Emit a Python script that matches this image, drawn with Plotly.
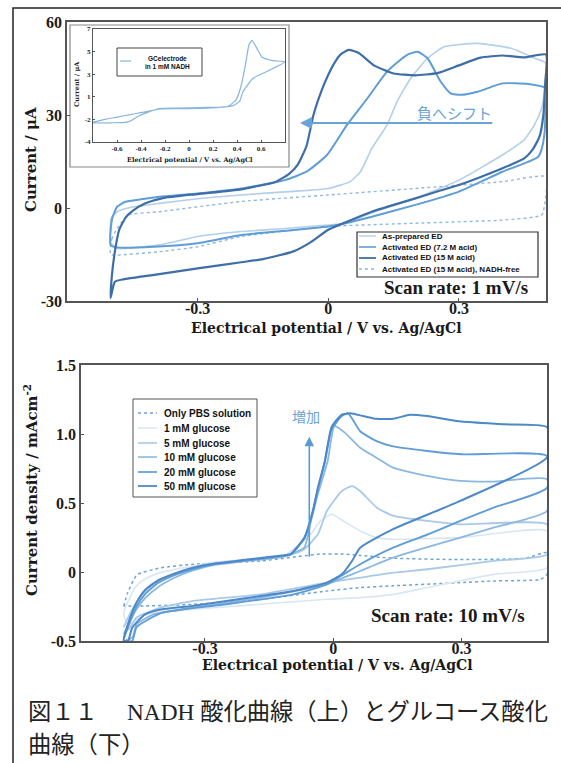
import plotly.graph_objects as go

W, H = 561, 763


def px(x):
    return x / W


def py(y):
    return 1 - y / H


# ---------------- top panel: NADH oxidation (Current / uA) ----------------
ap_v = [-0.5, -0.498, -0.485, -0.45, -0.388, -0.3, -0.2, -0.1, 0.0, 0.05, 0.074, 0.1, 0.135, 0.158,
        0.189, 0.228, 0.266, 0.343, 0.42, 0.474, 0.5,
        0.499, 0.497, 0.49, 0.474, 0.45, 0.4, 0.3, 0.2, 0.1, 0.04, 0.0, -0.1, -0.2, -0.3, -0.388,
        -0.485, -0.5]
ap_i = [-11, -3, -1.2, 0.3, 1.5, 3.0, 4.2, 5.2, 6.3, 8.5, 11.7, 19.2, 26.8, 34.3,
        41.8, 48.3, 52.0, 53.1, 51.5, 48.3, 46.7,
        42, 38, 32.2, 27, 22, 17.1, 9.0, 3.1, -1.5, -4.9, -5.5, -6.6, -7.6, -9.2, -11.9,
        -13.0, -11]

a72_v = [-0.5, -0.499, -0.496, -0.485, -0.466, -0.43, -0.388, -0.3, -0.2, -0.1, -0.05, -0.003, 0.043,
         0.09, 0.135, 0.181, 0.205, 0.228, 0.258, 0.281, 0.305, 0.343, 0.4, 0.459, 0.5,
         0.499, 0.497, 0.49, 0.482, 0.459, 0.4, 0.3, 0.2, 0.1, 0.04, 0.0, -0.08, -0.2, -0.3, -0.4,
         -0.485, -0.5]
a72_i = [-12, -6, -3.3, 0.4, 2.0, 2.8, 3.6, 4.7, 6.3, 9.0, 11.7, 17.1, 26.8,
         35.4, 44.0, 49.4, 50.4, 48.3, 40.8, 37.0, 36.5, 37.5, 40.2, 40.0, 38.6,
         32, 24.6, 19, 16.5, 14.9, 11.7, 5.3, 1.0, -2.8, -4.9, -6.0, -7.1, -8.7, -11.4, -12.5,
         -12.7, -12]

a15_v = [-0.5, -0.497, -0.49, -0.48, -0.465, -0.45, -0.42, -0.38, -0.3, -0.2, -0.12, -0.09, -0.07,
         -0.05, -0.034, -0.015, 0.0, 0.015, 0.028, 0.047, 0.07, 0.105, 0.15, 0.2, 0.25, 0.3, 0.35,
         0.4, 0.45, 0.5,
         0.498, 0.494, 0.485, 0.47, 0.45, 0.4, 0.35, 0.3, 0.25, 0.2, 0.15, 0.1, 0.05, 0.0, -0.04,
         -0.08, -0.15, -0.2, -0.3, -0.4, -0.47, -0.49, -0.5]
a15_i = [-29, -22, -14, -7, -3, -1, 1.5, 3.2, 4.5, 6.0, 8.5, 11.0, 14.0,
         20.0, 30.0, 38.0, 43.0, 47.0, 49.5, 51.0, 50.0, 46.0, 43.4, 42.8, 43.5, 46.0, 48.5,
         49.2, 48.6, 49.5,
         40, 30, 23, 19, 16, 12.8, 10.0, 7.4, 5.3, 3.1, 1.0, -1.2, -4.0, -7.0, -11.0,
         -14.0, -16.5, -17.5, -19.5, -21.6, -23.0, -23.8, -29]

nf_v = [-0.5, -0.497, -0.485, -0.46, -0.388, -0.2, 0.0, 0.2, 0.4, 0.5,
        0.497, 0.49, 0.4, 0.2, 0.0, -0.2, -0.3, -0.388, -0.485, -0.5]
nf_i = [-15, -10, -6.6, -2.3, -1.2, 2.1, 4.2, 6.3, 8.5, 10.1,
        1.0, -2.3, -3.9, -4.9, -6.0, -9.2, -12.5, -14.1, -15.2, -15]

top_names = ["As-prepared ED", "Activated ED (7.2 M acid)", "Activated ED (15 M acid)",
             "Activated ED (15 M acid), NADH-free"]

# inset: GC electrode in 1 mM NADH
gc_v = [-0.8, -0.7, -0.6, -0.5, -0.4, -0.3, -0.25, -0.1, 0.1, 0.3, 0.33, 0.39, 0.43, 0.47, 0.5,
        0.525, 0.56, 0.61, 0.7, 0.8,
        0.64, 0.53, 0.45, 0.42, 0.36, 0.15, -0.1, -0.26, -0.35, -0.43, -0.48, -0.53, -0.65, -0.8]
gc_i = [-1.25, -1.0, -0.8, -0.6, -0.4, -0.2, -0.05, 0.0, 0.05, 0.1, 0.19, 0.7, 1.8, 3.8, 5.6,
        6.0, 5.4, 4.5, 4.2, 4.1,
        3.2, 2.6, 1.45, 0.57, 0.2, 0.0, -0.05, -0.1, -0.4, -0.76, -1.1, -1.26, -1.3, -1.32]
inset_ytick_vals = [7, 5, 3, 1, -1, -3]
inset_ytick_text = ["7", "5", "3", "1", "-2", "-4"]
inset_xtick_vals = [-0.6, -0.4, -0.2, 0, 0.2, 0.4, 0.6]
inset_xtick_text = ["-0.6", "-0.4", "-0.2", "0", "0.2", "0.4", "0.6"]

# ---------------- bottom panel: glucose oxidation (mA cm^-2) ----------------
pbs_v = [-0.49, -0.482, -0.459, -0.404, -0.326, -0.17, -0.03, 0.024, 0.063, 0.141, 0.297, 0.45, 0.5,
         0.5, 0.485, 0.375, 0.297, 0.141, 0.063, -0.015, -0.17, -0.326, -0.44, -0.49]
pbs_j = [-0.25, -0.16, -0.02, 0.03, 0.056, 0.08, 0.13, 0.13, 0.12, 0.1, 0.09, 0.1, 0.14,
         -0.017, -0.053, -0.065, -0.077, -0.1, -0.113, -0.138, -0.198, -0.234, -0.246, -0.246]

g1_v = [-0.49, -0.475, -0.46, -0.44, -0.41, -0.37, -0.33, -0.28, -0.2, -0.12, -0.054, -0.03, -0.004,
        0.024, 0.063, 0.102, 0.141, 0.297, 0.5,
        0.5, 0.375, 0.22, 0.141, 0.063, -0.015, -0.17, -0.326, -0.44, -0.48, -0.49]
g1_j = [-0.3, -0.18, -0.1, -0.05, -0.01, 0.02, 0.04, 0.07, 0.09, 0.11, 0.27, 0.37, 0.418,
        0.37, 0.297, 0.249, 0.237, 0.249, 0.297,
        0.031, -0.017, -0.113, -0.162, -0.186, -0.198, -0.234, -0.27, -0.31, -0.38, -0.3]

g5_v = [-0.49, -0.475, -0.46, -0.44, -0.41, -0.37, -0.33, -0.28, -0.2, -0.12, -0.07, -0.036, -0.015,
        0.02, 0.044, 0.063, 0.102, 0.141, 0.22, 0.297, 0.5,
        0.5, 0.375, 0.22, 0.141, 0.063, -0.015, -0.17, -0.326, -0.404, -0.46, -0.475, -0.49]
g5_j = [-0.4, -0.3, -0.22, -0.14, -0.07, -0.01, 0.03, 0.06, 0.09, 0.11, 0.16, 0.273, 0.442,
        0.587, 0.623, 0.587, 0.466, 0.406, 0.37, 0.345, 0.345,
        0.128, 0.08, 0.02, -0.005, -0.041, -0.077, -0.162, -0.21, -0.258, -0.33, -0.4, -0.45]

g10_v = [-0.49, -0.475, -0.46, -0.44, -0.41, -0.37, -0.33, -0.28, -0.2, -0.12, -0.068, -0.052, -0.036,
         -0.013, 0.003, 0.027, 0.063, 0.1, 0.14, 0.22, 0.297, 0.375, 0.5,
         0.5, 0.375, 0.297, 0.14, 0.063, 0.024, -0.015, -0.17, -0.326, -0.42, -0.46, -0.47, -0.49]
g10_j = [-0.45, -0.35, -0.27, -0.19, -0.11, -0.04, 0.01, 0.05, 0.08, 0.11, 0.176, 0.37, 0.563,
         0.804, 1.058, 1.01, 0.9, 0.83, 0.756, 0.696, 0.66, 0.655, 0.672,
         0.442, 0.321, 0.249, 0.104, 0.007, -0.041, -0.089, -0.186, -0.258, -0.307, -0.38, -0.476, -0.5]

g20_v = [-0.49, -0.475, -0.46, -0.44, -0.41, -0.37, -0.33, -0.28, -0.2, -0.12, -0.1, -0.068, -0.048,
         -0.036, -0.02, -0.004, 0.02, 0.035, 0.063, 0.1, 0.14, 0.22, 0.3, 0.5,
         0.5, 0.375, 0.297, 0.22, 0.14, 0.063, 0.024, -0.015, -0.093, -0.25, -0.4, -0.46, -0.47, -0.49]
g20_j = [-0.48, -0.36, -0.25, -0.16, -0.08, -0.02, 0.02, 0.055, 0.085, 0.115, 0.125, 0.24, 0.43,
         0.6, 0.79, 1.03, 1.13, 1.15, 1.02, 0.95, 0.91, 0.877, 0.853, 0.84,
         0.61, 0.466, 0.37, 0.27, 0.176, 0.056, -0.017, -0.09, -0.162, -0.234, -0.295, -0.4, -0.5, -0.5]

g50_v = [-0.49, -0.475, -0.46, -0.44, -0.41, -0.37, -0.33, -0.28, -0.2, -0.12, -0.1, -0.0675, -0.048,
         -0.036, -0.02, -0.004, 0.02, 0.04, 0.07, 0.1, 0.14, 0.18, 0.22, 0.3, 0.4, 0.5,
         0.5, 0.297, 0.14, 0.063, 0.044, 0.02, -0.015, -0.093, -0.17, -0.25, -0.33, -0.4, -0.44,
         -0.47, -0.48, -0.49]
g50_j = [-0.5, -0.33, -0.22, -0.13, -0.06, -0.01, 0.03, 0.06, 0.09, 0.12, 0.13, 0.25, 0.44,
         0.61, 0.8, 1.05, 1.14, 1.15, 1.13, 1.11, 1.11, 1.14, 1.13, 1.09, 1.07, 1.05,
         0.83, 0.515, 0.31, 0.176, 0.08, -0.017, -0.077, -0.138, -0.174, -0.21, -0.246, -0.27, -0.307,
         -0.403, -0.5, -0.5]

bottom_names = ["Only PBS solution", "1 mM glucose", "5 mM glucose", "10 mM glucose",
                "20 mM glucose", "50 mM glucose"]

# ---------------- styles ----------------
c_ap, c_72, c_15, c_nf = "#b3cfea", "#5e9dd6", "#3d6ea8", "#8fb8e0"
c_pbs, c_1, c_5, c_10, c_20, c_50 = "#6ea3d6", "#d9e7f4", "#a9c9e8", "#8ab8e0", "#609dd6", "#4c89c8"
c_inset = "#86b5df"

SERIF = "Liberation Serif, Times New Roman, serif"
WSERIF = "DejaVu Serif, Liberation Serif, serif"
SANS = "Liberation Sans Narrow, Liberation Sans, Arial, sans-serif"
CJK = "Noto Sans CJK JP"

fig = go.Figure()


def add(x, y, color, width, dash, xa, ya):
    fig.add_trace(go.Scatter(x=x, y=y, mode="lines",
                             line=dict(color=color, width=width, dash=dash, shape="spline", smoothing=0.5),
                             xaxis=xa, yaxis=ya, showlegend=False, hoverinfo="skip"))


add(nf_v, nf_i, c_nf, 1.4, "dot", "x", "y")
add(ap_v, ap_i, c_ap, 1.6, "solid", "x", "y")
add(a72_v, a72_i, c_72, 2.0, "solid", "x", "y")
add(a15_v, a15_i, c_15, 2.2, "solid", "x", "y")

add(pbs_v, pbs_j, c_pbs, 1.5, "dot", "x2", "y2")
add(g1_v, g1_j, c_1, 1.6, "solid", "x2", "y2")
add(g5_v, g5_j, c_5, 1.8, "solid", "x2", "y2")
add(g10_v, g10_j, c_10, 1.8, "solid", "x2", "y2")
add(g20_v, g20_j, c_20, 1.9, "solid", "x2", "y2")
add(g50_v, g50_j, c_50, 2.0, "solid", "x2", "y2")

add(gc_v, gc_i, c_inset, 1.2, "solid", "x3", "y3")

frame = dict(showline=True, mirror=True, linecolor="#555", linewidth=1.5, ticks="inside", ticklen=3,
             tickcolor="#555", showgrid=False, zeroline=False, automargin=False)
tf = dict(family=SERIF, size=16, color="#1a1a1a", weight="bold")
tf_small = dict(family=SERIF, size=7, color="#1a1a1a", weight="bold")

fig.update_layout(
    width=W, height=H, margin=dict(l=0, r=0, t=0, b=0),
    paper_bgcolor="white", plot_bgcolor="white", showlegend=False,
    xaxis=dict(frame, domain=[px(67), px(546)], range=[-0.6, 0.5], anchor="y",
               tickvals=[-0.3, 0, 0.3], ticktext=["-0.3", "0", "0.3"], tickfont=tf, ticklabelstandoff=-8),
    yaxis=dict(frame, domain=[py(301), py(22)], range=[-30, 60], anchor="x",
               tickvals=[-30, 0, 30, 60], ticktext=["-30", "0", "30", "60"], tickfont=tf),
    xaxis2=dict(frame, domain=[px(81), px(547)], range=[-0.59, 0.5], anchor="y2",
                tickvals=[-0.3, 0, 0.3], ticktext=["-0.3", "0", "0.3"], tickfont=tf, ticklabelstandoff=-8),
    yaxis2=dict(frame, domain=[py(641), py(365)], range=[-0.5, 1.5], anchor="x2",
                tickvals=[-0.5, 0, 0.5, 1.0, 1.5], ticktext=["-0.5", "0", "0.5", "1.0", "1.5"], tickfont=tf),
    xaxis3=dict(frame, domain=[px(93), px(285)], range=[-0.8, 0.8], anchor="y3",
                tickvals=inset_xtick_vals, ticktext=inset_xtick_text, tickfont=tf_small, linewidth=1,
                ticklen=2),
    yaxis3=dict(frame, domain=[py(142), py(29)], range=[-3, 7], anchor="x3",
                tickvals=inset_ytick_vals, ticktext=inset_ytick_text, tickfont=tf_small, linewidth=1,
                ticklen=2),
)

shapes = []
# outer figure frame
shapes.append(dict(type="rect", xref="paper", yref="paper", x0=px(13), x1=px(600), y0=py(800), y1=py(8),
                   line=dict(color="#222", width=1.5), fillcolor="rgba(0,0,0,0)", layer="below"))
# inset outer box
shapes.append(dict(type="rect", xref="paper", yref="paper", x0=px(70), x1=px(289), y0=py(167), y1=py(25),
                   line=dict(color="#888", width=1.2), fillcolor="white", layer="below"))
# inset legend box
shapes.append(dict(type="rect", xref="paper", yref="paper", x0=px(117), x1=px(202), y0=py(76), y1=py(48),
                   line=dict(color="#444", width=1), fillcolor="white"))
shapes.append(dict(type="line", xref="paper", yref="paper", x0=px(120), x1=px(131), y0=py(61), y1=py(61),
                   line=dict(color=c_inset, width=1.2)))
# top legend box
shapes.append(dict(type="rect", xref="paper", yref="paper", x0=px(357), x1=px(538), y0=py(277), y1=py(232),
                   line=dict(color="#333", width=1.2), fillcolor="white"))
# bottom legend box
shapes.append(dict(type="rect", xref="paper", yref="paper", x0=px(133), x1=px(257), y0=py(497), y1=py(399),
                   line=dict(color="#555", width=1), fillcolor="white"))

annotations = []
top_styles = [(c_ap, "solid", 1.4), (c_72, "solid", 1.6), (c_15, "solid", 1.8), (c_nf, "dot", 1.4)]
top_rows = [236, 247, 258, 269]
for name, (col, dash, wd), yy in zip(top_names, top_styles, top_rows):
    shapes.append(dict(type="line", xref="paper", yref="paper", x0=px(359), x1=px(376), y0=py(yy), y1=py(yy),
                       line=dict(color=col, width=wd, dash=dash)))
    annotations.append(dict(text=name, xref="paper", yref="paper", x=px(380), y=py(yy), xanchor="left",
                            yanchor="middle", showarrow=False,
                            font=dict(family=SANS, size=8, color="#111", weight="bold")))

bot_styles = [(c_pbs, "dot", 1.5), (c_1, "solid", 1.5), (c_5, "solid", 1.6), (c_10, "solid", 1.6),
              (c_20, "solid", 1.7), (c_50, "solid", 1.8)]
bot_rows = [413, 428, 443, 457, 472, 486]
for name, (col, dash, wd), yy in zip(bottom_names, bot_styles, bot_rows):
    shapes.append(dict(type="line", xref="paper", yref="paper", x0=px(138), x1=px(157), y0=py(yy), y1=py(yy),
                       line=dict(color=col, width=wd, dash=dash)))
    annotations.append(dict(text=name, xref="paper", yref="paper", x=px(162), y=py(yy), xanchor="left",
                            yanchor="middle", showarrow=False,
                            font=dict(family=SANS, size=10, color="#111", weight="bold")))

# inset legend text
annotations.append(dict(text="GCelectrode<br>in 1 mM NADH", xref="paper", yref="paper", x=px(167), y=py(62),
                        xanchor="center", yanchor="middle", showarrow=False,
                        font=dict(family=SANS, size=6.5, color="#111", weight="bold")))


# axis titles
def title(text, x, y, size, angle=0, family=WSERIF):
    annotations.append(dict(text=text, xref="paper", yref="paper", x=px(x), y=py(y), xanchor="center",
                            yanchor="middle", showarrow=False, textangle=angle,
                            font=dict(family=family, size=size, color="#1a1a1a", weight="bold")))


title("Electrical potential / V vs. Ag/AgCl", 326, 328, 14)
title("Electrical potential / V vs. Ag/AgCl", 337, 665, 14)
title("Current / μA", 31, 160, 15, -90)
title("Current density / mAcm<sup>-2</sup>", 31, 490, 15, -90)
title("Electrical potential / V vs. Ag/AgCl", 190, 160, 6.5)
title("Current / μA", 77, 84, 6.5, -90)
title("Scan rate: 1 mV/s", 456, 287, 19, family=SERIF)
title("Scan rate: 10 mV/s", 448, 615, 19, family=SERIF)

# arrows and Japanese notes
annotations.append(dict(x=-0.065, y=27.4, ax=0.38, ay=27.4, xref="x", yref="y", axref="x", ayref="y",
                        text="", showarrow=True, arrowhead=2, arrowsize=1.2, arrowwidth=2, arrowcolor="#6aa3d8"))
annotations.append(dict(x=0.289, y=30.8, xref="x", yref="y", text="負へシフト", showarrow=False,
                        font=dict(family=CJK, size=15, color="#6aa3d8")))
annotations.append(dict(x=-0.056, y=0.98, ax=-0.056, ay=0.1, xref="x2", yref="y2", axref="x2", ayref="y2",
                        text="", showarrow=True, arrowhead=2, arrowsize=1.2, arrowwidth=1.6, arrowcolor="#5b9bd5"))
annotations.append(dict(x=-0.063, y=1.13, xref="x2", yref="y2", text="増加", showarrow=False,
                        font=dict(family=CJK, size=14, color="#6aa3d8")))

# caption
annotations.append(dict(text="図１１　 NADH 酸化曲線（上）とグルコース酸化", xref="paper", yref="paper",
                        x=px(26), y=py(712), xanchor="left", yanchor="middle", showarrow=False,
                        font=dict(family="Liberation Serif, " + CJK, size=23.3, color="#222")))
annotations.append(dict(text="曲線（下）", xref="paper", yref="paper",
                        x=px(26), y=py(745), xanchor="left", yanchor="middle", showarrow=False,
                        font=dict(family="Liberation Serif, " + CJK, size=23.3, color="#222")))

fig.update_layout(shapes=shapes, annotations=annotations)
fig.write_html("out.html")
